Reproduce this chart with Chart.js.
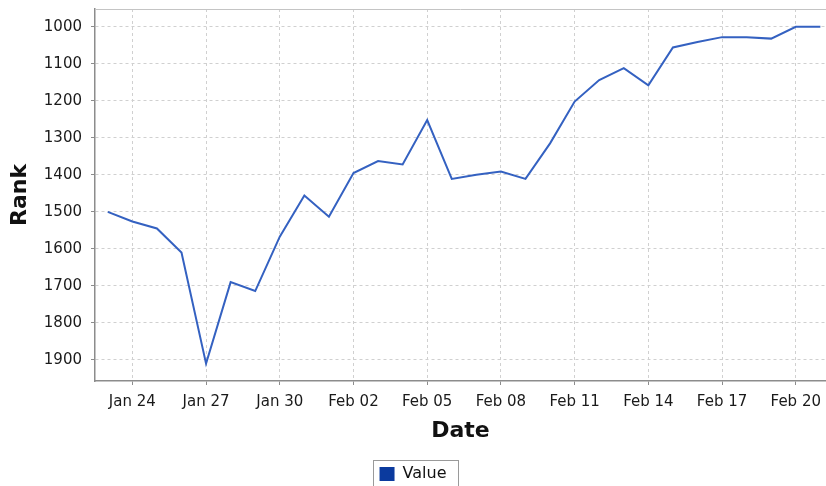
<!DOCTYPE html>
<html>
<head>
<meta charset="utf-8">
<script src="https://cdn.jsdelivr.net/npm/chart.js@4.4.1/dist/chart.umd.min.js"></script>
<style>
  html, body { margin: 0; padding: 0; background: #fff; overflow: hidden; }
  #wrap { width: 826px; height: 486px; overflow: hidden; }
  canvas { display: block; }
</style>
</head>
<body>
<div id="wrap"><canvas id="rankChart" width="826" height="496"></canvas></div>
<script>
// Daily rank, one entry per day
const dates = [
  'Jan 23', 'Jan 24', 'Jan 25', 'Jan 26', 'Jan 27', 'Jan 28', 'Jan 29', 'Jan 30', 'Jan 31',
  'Feb 01', 'Feb 02', 'Feb 03', 'Feb 04', 'Feb 05', 'Feb 06', 'Feb 07', 'Feb 08', 'Feb 09',
  'Feb 10', 'Feb 11', 'Feb 12', 'Feb 13', 'Feb 14', 'Feb 15', 'Feb 16', 'Feb 17', 'Feb 18',
  'Feb 19', 'Feb 20', 'Feb 21'
];
const ranks = [
  1500, 1526, 1545, 1610, 1910, 1690, 1714, 1567, 1456,
  1513, 1395, 1363, 1372, 1252, 1411, 1400, 1391, 1411,
  1315, 1202, 1144, 1112, 1158, 1056, 1041, 1028, 1028,
  1032, 1000, 1000
];
const rankTicks = [1000, 1100, 1200, 1300, 1400, 1500, 1600, 1700, 1800, 1900];
const dateTicks = ['Jan 24', 'Jan 27', 'Jan 30', 'Feb 02', 'Feb 05', 'Feb 08', 'Feb 11', 'Feb 14', 'Feb 17', 'Feb 20'];
const seriesName = 'Value';

const FONT = "'DejaVu Sans', sans-serif";
const AXIS_GREY = '#8c8c8c';
const GRID_GREY = '#d0d0d0';

// Light outline along the top of the plot, and a frame around the legend entry
const framePlugin = {
  id: 'frames',
  afterDraw(chart) {
    const ctx = chart.ctx;
    const a = chart.chartArea;
    ctx.save();
    ctx.strokeStyle = '#c4c4c4';
    ctx.lineWidth = 1;
    ctx.beginPath();
    ctx.moveTo(a.left, a.top + 0.5);
    ctx.lineTo(a.right, a.top + 0.5);
    ctx.stroke();

    const hb = chart.legend && chart.legend.legendHitBoxes && chart.legend.legendHitBoxes[0];
    if (hb) {
      ctx.strokeStyle = '#9a9a9a';
      ctx.strokeRect(Math.round(hb.left - 7) + 0.5, Math.round(hb.top - 6) + 0.5,
                     Math.round(hb.width + 18), Math.round(hb.height + 12));
    }
    ctx.restore();
  }
};

const gridOpts = {
  color: GRID_GREY,
  lineWidth: 1,
  drawTicks: true,
  tickLength: 4,
  tickColor: AXIS_GREY,
  tickBorderDash: [],
  tickWidth: 1
};
// In Chart.js v4 the dash of the grid lines lives under `border`
const borderOpts = { display: true, color: AXIS_GREY, width: 1.5, dash: [3, 3] };

new Chart(document.getElementById('rankChart'), {
  type: 'line',
  data: {
    datasets: [{
      label: seriesName,
      data: dates.map((d, i) => ({ x: i, y: ranks[i] })),
      borderColor: '#3461c1',
      backgroundColor: '#0b3a9e',
      borderWidth: 2,
      pointRadius: 0,
      tension: 0,
      fill: false
    }]
  },
  options: {
    responsive: false,
    animation: false,
    devicePixelRatio: 1,
    layout: { padding: { top: 9, right: 0, bottom: 4, left: 0 } },
    plugins: {
      tooltip: { enabled: false },
      legend: {
        position: 'bottom',
        labels: {
          font: { family: FONT, size: 16 },
          color: '#111',
          boxWidth: 15,
          boxHeight: 14,
          padding: 10,
          generateLabels(chart) {
            return Chart.defaults.plugins.legend.labels.generateLabels(chart).map(item => {
              item.fillStyle = '#0b3a9e';
              item.strokeStyle = '#0b3a9e';
              item.lineWidth = 0;
              return item;
            });
          }
        }
      }
    },
    scales: {
      x: {
        type: 'linear',
        min: -0.52,
        max: 29.23,
        afterBuildTicks(scale) {
          scale.ticks = dateTicks.map(lbl => ({ value: dates.indexOf(lbl) }));
        },
        afterFit(scale) {
          scale.height = 75;
          scale.paddingLeft = 0;
          scale.paddingRight = 0;
        },
        ticks: {
          callback: v => dates[v],
          font: { family: FONT, size: 15 },
          color: '#1a1a1a',
          padding: 8,
          maxRotation: 0,
          autoSkip: false
        },
        grid: gridOpts,
        border: borderOpts,
        title: {
          display: true,
          text: 'Date',
          font: { family: FONT, size: 22, weight: 'bold' },
          color: '#111',
          padding: { top: 0, bottom: 12 }
        }
      },
      y: {
        type: 'linear',
        reverse: true,
        min: 952,
        max: 1957,
        afterBuildTicks(scale) {
          scale.ticks = rankTicks.map(v => ({ value: v }));
        },
        afterFit(scale) {
          scale.width = 95;
          scale.paddingTop = 0;
          scale.paddingBottom = 0;
        },
        ticks: {
          callback: v => String(v),
          font: { family: FONT, size: 15 },
          color: '#1a1a1a',
          padding: 9,
          autoSkip: false
        },
        grid: gridOpts,
        border: borderOpts,
        title: {
          display: true,
          text: 'Rank',
          font: { family: FONT, size: 22, weight: 'bold' },
          color: '#111',
          padding: { top: 7, bottom: 0 }
        }
      }
    }
  },
  plugins: [framePlugin]
});
</script>
</body>
</html>
